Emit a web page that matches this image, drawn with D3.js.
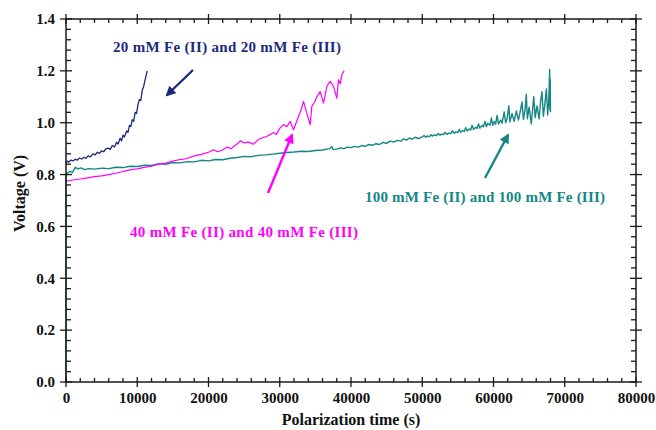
<!DOCTYPE html>
<html>
<head>
<meta charset="utf-8">
<script src="https://cdn.jsdelivr.net/npm/d3@7/dist/d3.min.js"></script>
<style>
  html, body { margin: 0; padding: 0; background: #fff; }
  svg { display: block; }
  text { font-family: "Liberation Serif", "Times New Roman", serif; font-weight: bold; }
</style>
</head>
<body>
<svg id="chart" width="656" height="430"></svg>
<script>
// ---- data ----
const xMajorTicks = [0, 10000, 20000, 30000, 40000, 50000, 60000, 70000, 80000];
const yMajorTicks = [0.0, 0.2, 0.4, 0.6, 0.8, 1.0, 1.2, 1.4];
const seriesLabels = ["20 mM Fe (II) and 20 mM Fe (III)", "40 mM Fe (II) and 40 mM Fe (III)", "100 mM Fe (II) and 100 mM Fe (III)"];

const fe20 = [[0,0.842],[150,0.852],[400,0.848],[700,0.856],[1000,0.853],[1300,0.859],[1600,0.856],[1900,0.864],[2200,0.860],[2500,0.866],[2800,0.863],[3100,0.872],[3400,0.868],[3800,0.880],[4100,0.876],[4400,0.886],[4700,0.882],[5000,0.892],[5300,0.888],[5600,0.899],[5900,0.902],[6200,0.897],[6500,0.912],[6800,0.906],[7100,0.925],[7300,0.918],[7600,0.940],[7800,0.930],[8000,0.952],[8200,0.945],[8500,0.968],[8700,0.962],[8900,0.990],[9100,0.985],[9300,1.012],[9500,1.005],[9700,1.040],[9900,1.035],[10100,1.070],[10300,1.090],[10500,1.085],[10700,1.125],[10900,1.140],[11100,1.165],[11400,1.2]];

const fe40 = [[0,0.775],[1000,0.779],[2000,0.783],[3000,0.787],[4000,0.792],[5000,0.795],[6000,0.8],[7000,0.805],[8000,0.812],[9000,0.818],[10000,0.822],[11000,0.828],[12000,0.832],[13000,0.84],[14000,0.844],[15000,0.852],[16000,0.858],[17000,0.862],[18000,0.872],[19000,0.878],[20000,0.886],[20700,0.896],[21300,0.888],[22000,0.895],[22600,0.906],[23200,0.9],[24000,0.918],[24500,0.93],[25000,0.922],[25600,0.925],[26300,0.917],[27000,0.935],[27600,0.942],[28200,0.948],[28700,0.955],[29100,0.962],[29500,0.955],[30000,0.978],[30500,0.992],[31000,0.985],[31460,1.005],[31930,0.973],[32300,1.0],[32630,1.024],[33000,1.05],[33330,1.082],[33800,1.037],[34270,0.992],[34500,1.063],[34900,1.08],[35210,1.10],[35670,1.12],[36140,1.076],[36400,1.11],[36610,1.14],[37080,1.16],[37540,1.14],[38010,1.095],[38250,1.166],[38500,1.15],[38720,1.185],[39040,1.2]];

const fe100 = [[0,0.0],[0,0.80],[200,0.805],[500,0.812],[900,0.808],[1300,0.828],[1700,0.822],[2100,0.826],[2600,0.819],[3200,0.823],[4000,0.821],[5000,0.825],[6000,0.823],[7000,0.828],[8000,0.827],[9000,0.832],[10000,0.831],[11000,0.836],[12000,0.835],[13000,0.842],[14000,0.84],[15000,0.846],[16000,0.845],[17000,0.85],[18000,0.849],[19000,0.855],[20000,0.853],[21000,0.858],[22000,0.857],[23000,0.863],[24000,0.866],[25000,0.87],[26000,0.869],[27000,0.874],[28000,0.876],[29000,0.879],[30000,0.882],[31000,0.885],[32000,0.887],[33000,0.89],[34000,0.889],[35000,0.893],[36000,0.895],[37000,0.9],[37300,0.908],[37500,0.896],[38000,0.898],[38500,0.903],[39000,0.900],[39500,0.906],[40000,0.904],[40500,0.909],[41000,0.906],[41500,0.912],[42000,0.909],[42500,0.916],[43000,0.913],[43500,0.919],[44000,0.916],[44500,0.924],[45000,0.920],[45500,0.929],[46000,0.925],[46500,0.932],[47000,0.929],[47400,0.938],[47800,0.933],[48200,0.941],[48600,0.936],[49000,0.944],[49500,0.939],
  [50000,0.945],[50250,0.951],[50500,0.944],[50700,0.949],[51000,0.946],[51250,0.954],[51400,0.948],[51700,0.953],[52000,0.950],[52200,0.958],[52500,0.952],[52700,0.956],[53000,0.954],[53200,0.963],[53500,0.955],[53700,0.960],[54000,0.958],[54250,0.968],[54500,0.959],[54700,0.965],[55000,0.962],[55200,0.975],[55400,0.963],[55700,0.970],[55900,0.966],[56100,0.982],[56300,0.968],[56600,0.976],[56800,0.972],[57000,0.990],[57200,0.974],[57500,0.983],[57700,0.978],[57900,0.995],[58100,0.979],[58400,0.990],[58600,0.984],[58800,1.005],[59000,0.985],[59200,0.998],[59500,0.990],[59700,1.018],[59900,0.990],[60100,1.005],[60300,0.994],[60500,1.028],[60700,0.995],[61000,1.010],[61200,0.998],[61500,1.042],[61700,1.0],[61900,1.015],[62150,1.065],[62300,1.003],[62600,1.035],[62900,1.005],[63200,1.045],[63500,1.01],[63800,1.05],[64000,1.08],[64200,1.012],[64450,1.055],[64600,1.11],[64750,1.015],[65000,1.06],[65300,0.995],[65650,1.10],[65850,1.02],[66100,1.065],[66400,1.015],[66600,1.08],[66800,1.12],[67000,1.025],[67200,1.07],[67420,1.13],[67600,1.03],[67750,1.08],[67880,1.205],[67920,1.05],[67960,1.17],[68000,1.04]];

// ---- layout ----
const W = 656, H = 430;
const margin = {left: 66, right: 20, top: 19, bottom: 48};
const svg = d3.select("#chart");
const x = d3.scaleLinear().domain([0, 80000]).range([margin.left, W - margin.right]);
const y = d3.scaleLinear().domain([0, 1.4]).range([H - margin.bottom, margin.top]);
const x0 = x.range()[0], x1 = x.range()[1], y0 = y.range()[0], y1 = y.range()[1];

const colors = {fe20: "#1c2a7c", fe40: "#ff00ff", fe100: "#138785"};
const axisColor = "#1a1a1a";

// series
const line = d3.line().x(d => x(d[0])).y(d => y(d[1]));
[[fe100, colors.fe100, 1.4], [fe40, colors.fe40, 1.2], [fe20, colors.fe20, 1.3]].forEach(([data, c, sw]) => {
  svg.append("path").datum(data).attr("d", line)
    .attr("fill", "none").attr("stroke", c).attr("stroke-width", sw).attr("stroke-linejoin", "round");
});

// frame
svg.append("rect").attr("x", x0).attr("y", y1).attr("width", x1 - x0).attr("height", y0 - y1)
  .attr("fill", "none").attr("stroke", axisColor).attr("stroke-width", 1.5);

// ticks
const xMinor = d3.range(0, 80001, 2000).filter(v => v % 10000 !== 0);
const yMinor = d3.range(0, 71).map(i => i * 0.02).filter((v, i) => i % 10 !== 0 && i % 2 === 0);
const tg = svg.append("g").attr("stroke", axisColor).attr("stroke-width", 1.3);
xMajorTicks.forEach(v => {
  tg.append("line").attr("x1", x(v)).attr("x2", x(v)).attr("y1", y0 - 5).attr("y2", y0 + 5);
  tg.append("line").attr("x1", x(v)).attr("x2", x(v)).attr("y1", y1 - 5).attr("y2", y1 + 5);
});
xMinor.forEach(v => {
  tg.append("line").attr("x1", x(v)).attr("x2", x(v)).attr("y1", y0 - 4).attr("y2", y0);
  tg.append("line").attr("x1", x(v)).attr("x2", x(v)).attr("y1", y1).attr("y2", y1 + 4);
});
yMajorTicks.forEach(v => {
  tg.append("line").attr("y1", y(v)).attr("y2", y(v)).attr("x1", x0 - 6).attr("x2", x0 + 6);
  tg.append("line").attr("y1", y(v)).attr("y2", y(v)).attr("x1", x1 - 6).attr("x2", x1 + 6);
});
yMinor.forEach(v => {
  tg.append("line").attr("y1", y(v)).attr("y2", y(v)).attr("x1", x0).attr("x2", x0 + 5);
  tg.append("line").attr("y1", y(v)).attr("y2", y(v)).attr("x1", x1 - 5).attr("x2", x1);
});

// tick labels via axes
const xAxis = svg.append("g").attr("transform", `translate(0,${y0})`)
  .call(d3.axisBottom(x).tickValues(xMajorTicks).tickFormat(d3.format("d")).tickSize(0).tickPadding(10));
const yAxis = svg.append("g").attr("transform", `translate(${x0},0)`)
  .call(d3.axisLeft(y).tickValues(yMajorTicks).tickFormat(d3.format(".1f")).tickSize(0).tickPadding(11));
[xAxis, yAxis].forEach(g => {
  g.select(".domain").remove();
  g.selectAll("text").attr("font-family", '"Liberation Serif", serif').attr("font-weight", "bold")
    .attr("font-size", 15).attr("fill", "#111");
});

// axis titles
svg.append("text").attr("x", (x0 + x1) / 2).attr("y", 425).attr("text-anchor", "middle")
  .attr("font-size", 16).attr("fill", "#111").text("Polarization time (s)");
svg.append("text").attr("transform", `translate(25,${(y0 + y1) / 2 - 7}) rotate(-90)`).attr("text-anchor", "middle")
  .attr("font-size", 16).attr("fill", "#111").text("Voltage (V)");

// annotations
const ann = [
  {t: seriesLabels[0], x: 113, y: 52, w: 228, c: colors.fe20},
  {t: seriesLabels[1], x: 130, y: 237, w: 228, c: colors.fe40},
  {t: seriesLabels[2], x: 365, y: 202, w: 240, c: colors.fe100}
];
ann.forEach(a => {
  svg.append("text").attr("x", a.x).attr("y", a.y).attr("font-size", 15).attr("fill", a.c)
    .attr("textLength", a.w).attr("lengthAdjust", "spacing").text(a.t);
});

// arrows
const defs = svg.append("defs");
function arrow(id, c, xa, ya, xb, yb) {
  defs.append("marker").attr("id", id).attr("viewBox", "0 0 10 10").attr("refX", 8).attr("refY", 5)
    .attr("markerWidth", 4.2).attr("markerHeight", 4.2).attr("orient", "auto")
    .append("path").attr("d", "M0,0 L10,5 L0,10 z").attr("fill", c);
  svg.append("line").attr("x1", xa).attr("y1", ya).attr("x2", xb).attr("y2", yb)
    .attr("stroke", c).attr("stroke-width", 2.4).attr("marker-end", `url(#${id})`);
}
arrow("a20", colors.fe20, 193, 70, 167, 95);
arrow("a40", colors.fe40, 268, 193, 292, 135);
arrow("a100", colors.fe100, 485, 178, 508, 135);
</script>
</body>
</html>
